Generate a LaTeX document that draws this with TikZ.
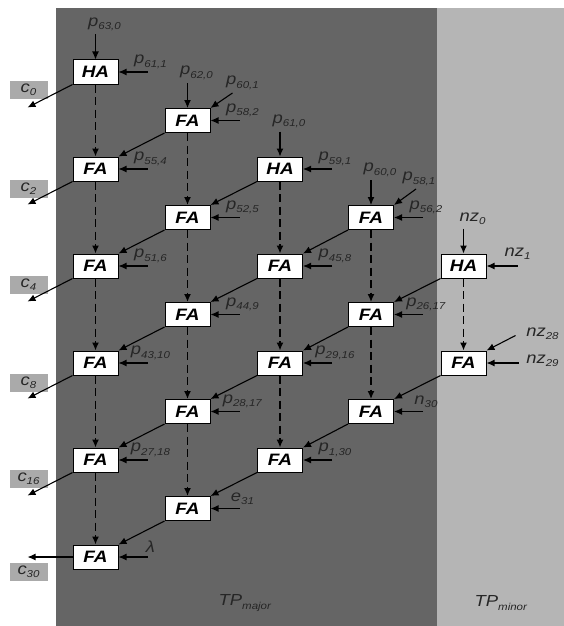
\documentclass[tikz,border=0pt]{standalone}
\usepackage{fontspec}
\setmainfont{Liberation Sans}[FakeStretch=1.15]
\usetikzlibrary{arrows.meta,positioning,calc}
\definecolor{major}{RGB}{101,101,101}
\definecolor{minor}{RGB}{181,181,181}
\definecolor{outgray}{RGB}{170,170,170}
\newcommand{\sig}[2]{\textit{#1}\raisebox{-0.4ex}{\fontsize{10}{11}\selectfont\textit{#2}}}

\begin{document}
\begin{tikzpicture}[
  x=1pt, y=-1pt,
  every node/.style={font=\fontsize{16}{18}\selectfont},
  box/.style={draw, line width=1pt, fill=white, minimum width=45pt,
              minimum height=24pt, inner sep=0pt,
              font=\fontsize{16.5}{18}\selectfont\bfseries\itshape},
  lab/.style={inner sep=0pt, text=black!85},
  outlab/.style={fill=outgray, minimum width=38pt, minimum height=18pt,
                 inner sep=0pt, text=black!85},
  arr/.style={-{Latex[length=8pt,width=7pt]}, line width=1.1pt},
  carry/.style={arr, line width=1.4pt, dash pattern=on 8pt off 4.5pt},
]
  \fill[major] (56,8) rectangle (437,626);
  \fill[minor] (437,8) rectangle (564,626);
  \useasboundingbox (0,0) rectangle (564,626);

  % adder cells, column by column
  \node[box] (a0)  at (95.5,72)    {HA};
  \node[box] (a2)  at (95.5,169)   {FA};
  \node[box] (a4)  at (95.5,266)   {FA};
  \node[box] (a6)  at (95.5,363)   {FA};
  \node[box] (a8)  at (95.5,460)   {FA};
  \node[box] (a10) at (95.5,557)   {FA};
  \node[box] (b1)  at (187.5,120.5) {FA};
  \node[box] (b3)  at (187.5,217.5) {FA};
  \node[box] (b5)  at (187.5,314.5) {FA};
  \node[box] (b7)  at (187.5,411.5) {FA};
  \node[box] (b9)  at (187.5,508.5) {FA};
  \node[box] (c2)  at (280,169)    {HA};
  \node[box] (c4)  at (280,266)    {FA};
  \node[box] (c6)  at (280,363)    {FA};
  \node[box] (c8)  at (280,460)    {FA};
  \node[box] (d3)  at (371,217.5)  {FA};
  \node[box] (d5)  at (371,314.5)  {FA};
  \node[box] (d7)  at (371,411.5)  {FA};
  \node[box] (e4)  at (463.5,266)  {HA};
  \node[box] (e6)  at (463.5,363)  {FA};

  % carries down each column
  \draw[carry] (a0) -- (a2); \draw[carry] (a2) -- (a4); \draw[carry] (a4) -- (a6);
  \draw[carry] (a6) -- (a8); \draw[carry] (a8) -- (a10);
  \draw[carry] (b1) -- (b3); \draw[carry] (b3) -- (b5); \draw[carry] (b5) -- (b7);
  \draw[carry] (b7) -- (b9);
  \draw[carry] (c2) -- (c4); \draw[carry] (c4) -- (c6); \draw[carry] (c6) -- (c8);
  \draw[carry] (d3) -- (d5); \draw[carry] (d5) -- (d7);
  \draw[carry] (e4) -- (e6);

  % sums to the next column
  \foreach \s/\t in {b1/a2, b3/a4, b5/a6, b7/a8, b9/a10, c2/b3, c4/b5, c6/b7,
                     c8/b9, d3/c4, d5/c6, d7/c8, e4/d5, e6/d7}
    \draw[arr] (\s.south west) -- (\t.north east);

  % inputs from above
  \foreach \n/\t in {a0/{\sig{p}{63,0}}, b1/{\sig{p}{62,0}}, c2/{\sig{p}{61,0}},
                     d3/{\sig{p}{60,0}}, e4/{\sig{nz}{0}}} {
    \coordinate (u\n) at ($(\n.north)+(0,-25)$);
    \draw[arr] (u\n) -- (\n);
    \node[lab] (tu\n) at ($(\n.north)+(9,-35)$) {\t};
  }

  % inputs from the right
  \foreach \n/\t in {a0/{\sig{p}{61,1}}, b1/{\sig{p}{58,2}}, a2/{\sig{p}{55,4}},
                     c2/{\sig{p}{59,1}}, b3/{\sig{p}{52,5}}, d3/{\sig{p}{56,2}},
                     a4/{\sig{p}{51,6}}, c4/{\sig{p}{45,8}}, b5/{\sig{p}{44,9}},
                     d5/{\sig{p}{26,17}}, a6/{\sig{p}{43,10}}, c6/{\sig{p}{29,16}},
                     b7/{\sig{p}{28,17}}, d7/{\sig{n}{30}}, a8/{\sig{p}{27,18}},
                     c8/{\sig{p}{1,30}}, b9/{\sig{e}{31}}, a10/{\textit{λ}}} {
    \coordinate (r\n) at ($(\n.east)+(29,0)$);
    \draw[arr] (r\n) -- (\n);
    \node[lab] (tr\n) at ($(\n.east)+(32,-10)$) {\t};
  }
  \coordinate (re4) at ($(e4.east)+(31,0)$);
  \draw[arr] (re4) -- (e4);
  \node[lab] (tre4) at ($(e4.east)+(31,-12)$) {\sig{nz}{1}};

  % inputs from the upper right
  \coordinate (db1) at ($(b1.north east)+(22,-15)$);
  \draw[arr] (db1) -- (b1.north east);
  \node[lab] (tdb1) at ($(b1.north east)+(32,-25)$) {\sig{p}{60,1}};
  \coordinate (dd3) at ($(d3.north east)+(22,-16)$);
  \draw[arr] (dd3) -- (d3.north east);
  \node[lab] (tdd3) at ($(d3.north east)+(25,-26)$) {\sig{p}{58,1}};
  \coordinate (de6) at ($(e6.north east)+(29,-15)$);
  \draw[arr] (de6) -- (e6.north east);
  \node[lab] (tde6) at ($(e6.north east)+(56,-17)$) {\sig{nz}{28}};
  \coordinate (re6) at ($(e6.east)+(32,0)$);
  \draw[arr] (re6) -- (e6);
  \node[lab] (tre6) at ($(e6.east)+(56,-2)$) {\sig{nz}{29}};

  % outputs
  \node[outlab] (co0)  at (28.5,90)    {\sig{c}{0}};
  \node[outlab] (co2)  at (28.5,189)   {\sig{c}{2}};
  \node[outlab] (co4)  at (28.5,284.5) {\sig{c}{4}};
  \node[outlab] (co8)  at (28.5,382.5) {\sig{c}{8}};
  \node[outlab] (co16) at (28.5,479)   {\sig{c}{16}};
  \node[outlab] (co30) at (28.5,571.5) {\sig{c}{30}};
  \foreach \n in {a0,a2,a4,a6,a8} {
    \coordinate (o\n) at ($(\n.south west)+(-45,23)$);
    \draw[arr] (\n.south west) -- (o\n);
  }
  \coordinate (oa10) at ($(a10.west)+(-45,0)$);
  \draw[arr] (a10) -- (oa10);

  \node[lab] (tpmaj) at (245,603) {\sig{TP}{major}};
  \node[lab] (tpmin) at (501,603) {\sig{TP}{minor}};
\end{tikzpicture}
\end{document}
